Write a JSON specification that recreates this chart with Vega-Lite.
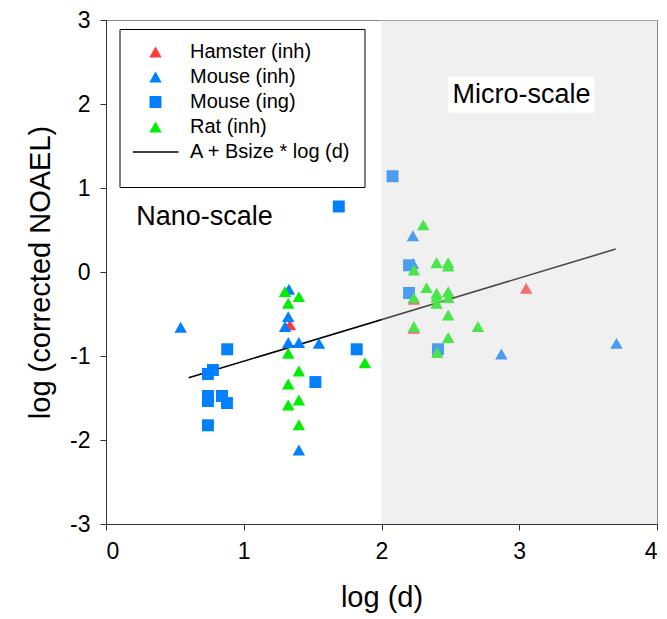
{
  "$schema": "https://vega.github.io/schema/vega-lite/v6.json",
  "width": 551,
  "height": 504,
  "autosize": "none",
  "padding": {"left": 106, "top": 20, "right": 10, "bottom": 95},
  "background": "white",
  "config": {
    "font": "Liberation Sans",
    "view": {"stroke": "#8a8a8a", "strokeWidth": 1},
    "axis": {
      "grid": false,
      "domainColor": "#333333",
      "tickColor": "#333333",
      "tickSize": 6,
      "labelFont": "Liberation Sans",
      "labelFontSize": 23,
      "labelColor": "black",
      "labelPadding": 10,
      "titleFont": "Liberation Sans",
      "titleFontSize": 29,
      "titleFontWeight": "normal",
      "titleColor": "black"
    }
  },
  "datasets": {
    "points": [
      {"x": 2.08, "y": 1.14, "group": "Mouse (ing)"},
      {"x": 1.69, "y": 0.78, "group": "Mouse (ing)"},
      {"x": 2.2, "y": 0.08, "group": "Mouse (ing)"},
      {"x": 2.2, "y": -0.25, "group": "Mouse (ing)"},
      {"x": 2.41, "y": -0.92, "group": "Mouse (ing)"},
      {"x": 1.82, "y": -0.92, "group": "Mouse (ing)"},
      {"x": 1.52, "y": -1.31, "group": "Mouse (ing)"},
      {"x": 0.88, "y": -0.92, "group": "Mouse (ing)"},
      {"x": 0.776, "y": -1.167, "group": "Mouse (ing)"},
      {"x": 0.74, "y": -1.214, "group": "Mouse (ing)"},
      {"x": 0.74, "y": -1.476, "group": "Mouse (ing)"},
      {"x": 0.74, "y": -1.536, "group": "Mouse (ing)"},
      {"x": 0.842, "y": -1.476, "group": "Mouse (ing)"},
      {"x": 0.878, "y": -1.56, "group": "Mouse (ing)"},
      {"x": 0.74, "y": -1.825, "group": "Mouse (ing)"},
      {"x": 3.05, "y": -0.195, "group": "Hamster (inh)"},
      {"x": 1.335, "y": -0.63, "group": "Hamster (inh)"},
      {"x": 2.235, "y": -0.325, "group": "Hamster (inh)"},
      {"x": 2.235, "y": -0.67, "group": "Hamster (inh)"},
      {"x": 0.542, "y": -0.658, "group": "Mouse (inh)"},
      {"x": 1.328, "y": -0.206, "group": "Mouse (inh)"},
      {"x": 1.323, "y": -0.532, "group": "Mouse (inh)"},
      {"x": 1.3, "y": -0.65, "group": "Mouse (inh)"},
      {"x": 1.323, "y": -0.84, "group": "Mouse (inh)"},
      {"x": 1.4, "y": -0.84, "group": "Mouse (inh)"},
      {"x": 1.546, "y": -0.85, "group": "Mouse (inh)"},
      {"x": 1.4, "y": -2.12, "group": "Mouse (inh)"},
      {"x": 2.228, "y": 0.43, "group": "Mouse (inh)"},
      {"x": 2.228, "y": 0.1, "group": "Mouse (inh)"},
      {"x": 2.87, "y": -0.976, "group": "Mouse (inh)"},
      {"x": 3.706, "y": -0.85, "group": "Mouse (inh)"},
      {"x": 1.299, "y": -0.234, "group": "Rat (inh)"},
      {"x": 1.4, "y": -0.294, "group": "Rat (inh)"},
      {"x": 1.323, "y": -0.373, "group": "Rat (inh)"},
      {"x": 1.323, "y": -0.968, "group": "Rat (inh)"},
      {"x": 1.4, "y": -1.18, "group": "Rat (inh)"},
      {"x": 1.323, "y": -1.333, "group": "Rat (inh)"},
      {"x": 1.4, "y": -1.524, "group": "Rat (inh)"},
      {"x": 1.323, "y": -1.583, "group": "Rat (inh)"},
      {"x": 1.4, "y": -1.82, "group": "Rat (inh)"},
      {"x": 1.88, "y": -1.08, "group": "Rat (inh)"},
      {"x": 2.303, "y": 0.56, "group": "Rat (inh)"},
      {"x": 2.4, "y": 0.11, "group": "Rat (inh)"},
      {"x": 2.484, "y": 0.11, "group": "Rat (inh)"},
      {"x": 2.484, "y": 0.07, "group": "Rat (inh)"},
      {"x": 2.235, "y": 0.024, "group": "Rat (inh)"},
      {"x": 2.327, "y": -0.187, "group": "Rat (inh)"},
      {"x": 2.4, "y": -0.254, "group": "Rat (inh)"},
      {"x": 2.484, "y": -0.234, "group": "Rat (inh)"},
      {"x": 2.4, "y": -0.3, "group": "Rat (inh)"},
      {"x": 2.4, "y": -0.373, "group": "Rat (inh)"},
      {"x": 2.484, "y": -0.306, "group": "Rat (inh)"},
      {"x": 2.235, "y": -0.306, "group": "Rat (inh)"},
      {"x": 2.484, "y": -0.512, "group": "Rat (inh)"},
      {"x": 2.235, "y": -0.65, "group": "Rat (inh)"},
      {"x": 2.7, "y": -0.65, "group": "Rat (inh)"},
      {"x": 2.484, "y": -0.78, "group": "Rat (inh)"},
      {"x": 2.404, "y": -0.96, "group": "Rat (inh)"}
    ],
    "fit": [
      {"x": 0.6, "y": -1.26},
      {"x": 3.7, "y": 0.273}
    ],
    "region": [
      {"x": 2, "x2": 4, "y": -3, "y2": 3}
    ],
    "labelbox": [
      {"x": 2.484, "x2": 3.544, "y": 1.896, "y2": 2.325}
    ],
    "labels": [
      {"x": 0.715, "y": 0.66, "text": "Nano-scale"},
      {"x": 3.017, "y": 2.11, "text": "Micro-scale"}
    ]
  },
  "layer": [
    {
      "data": {"name": "fit"},
      "mark": {"type": "line", "color": "black", "strokeWidth": 1.6},
      "encoding": {
        "x": {"field": "x", "type": "quantitative", "scale": {"domain": [0, 4], "nice": false, "zero": false},
              "axis": {"values": [0, 1, 2, 3, 4], "title": "log (d)", "titlePadding": 20, "labelExpr": "'' + datum.value"}},
        "y": {"field": "y", "type": "quantitative", "scale": {"domain": [-3, 3], "nice": false, "zero": false},
              "axis": {"values": [-3, -2, -1, 0, 1, 2, 3], "title": "log (corrected NOAEL)", "titlePadding": 14, "labelExpr": "'' + datum.value"}}
      }
    },
    {
      "data": {"name": "points"},
      "mark": {"type": "point", "filled": true, "opacity": 1, "size": 2116, "strokeWidth": 0},
      "encoding": {
        "x": {"field": "x", "type": "quantitative"},
        "y": {"field": "y", "type": "quantitative"},
        "color": {
          "field": "group", "type": "nominal",
          "scale": {
            "domain": ["Hamster (inh)", "Mouse (inh)", "Mouse (ing)", "Rat (inh)", "A + Bsize * log (d)"],
            "range": ["#ff3b3b", "#0080ff", "#0080ff", "#00ee00", "black"]
          },
          "legend": {
            "orient": "none", "legendX": 13.5, "legendY": 9,
            "title": " ", "titleOrient": "bottom", "titleFontSize": 8, "titlePadding": 4,
            "strokeColor": "black", "fillColor": "white", "padding": 13,
            "labelFont": "Liberation Sans", "labelFontSize": 20, "labelColor": "black", "labelOffset": 11.5, "labelLimit": 400,
            "symbolSize": 2116, "symbolStrokeWidth": 0, "clipHeight": 20, "rowPadding": 5
          }
        },
        "shape": {
          "field": "group", "type": "nominal",
          "scale": {
            "domain": ["Hamster (inh)", "Mouse (inh)", "Mouse (ing)", "Rat (inh)", "A + Bsize * log (d)"],
            "range": [
              "M0,-0.24L0.27,0.235L-0.27,0.235Z",
              "M0,-0.24L0.27,0.235L-0.27,0.235Z",
              "M-0.26,-0.26H0.26V0.26H-0.26Z",
              "M0,-0.24L0.27,0.235L-0.27,0.235Z",
              "M-1,-0.035H1V0.035H-1Z"
            ]
          }
        }
      }
    },
    {
      "data": {"name": "region"},
      "mark": {"type": "rect", "fill": "#d4d4d4", "opacity": 0.35},
      "encoding": {
        "x": {"field": "x", "type": "quantitative"},
        "x2": {"field": "x2"},
        "y": {"field": "y", "type": "quantitative"},
        "y2": {"field": "y2"}
      }
    },
    {
      "data": {"name": "labelbox"},
      "mark": {"type": "rect", "fill": "white"},
      "encoding": {
        "x": {"field": "x", "type": "quantitative"},
        "x2": {"field": "x2"},
        "y": {"field": "y", "type": "quantitative"},
        "y2": {"field": "y2"}
      }
    },
    {
      "data": {"name": "labels"},
      "mark": {"type": "text", "font": "Liberation Sans", "fontSize": 27, "color": "black", "align": "center", "baseline": "middle"},
      "encoding": {
        "x": {"field": "x", "type": "quantitative"},
        "y": {"field": "y", "type": "quantitative"},
        "text": {"field": "text"}
      }
    }
  ]
}
